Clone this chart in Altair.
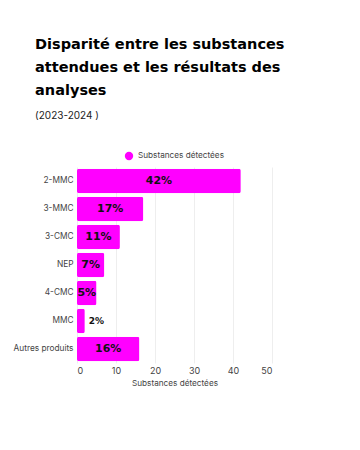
import altair as alt
import pandas as pd

categories = ["2-MMC", "3-MMC", "3-CMC", "NEP", "4-CMC", "MMC", "Autres produits"]
values = [42, 17, 11, 7, 5, 2, 16]
labels = ["42%", "17%", "11%", "7%", "5%", "2%", "16%"]
series_name = "Substances détectées"
x_ticks = [0, 10, 20, 30, 40, 50]

df = pd.DataFrame({"cat": categories, "val": values, "label": labels, "series": series_name})

HEAVY = "DejaVu Sans"
BODY = "Inter"

xaxis = alt.Axis(values=x_ticks, labelFont=BODY, labelFontSize=9,
                 labelColor="#444", titleFont=BODY, titleFontSize=8.2,
                 titleFontWeight="normal", titleColor="#444", ticks=False,
                 domain=False, grid=True, gridColor="#eeeeee", titlePadding=4,
                 labelPadding=3, labelOverlap=False)
xscale = alt.Scale(domain=[0, 50])
xtitle = "Substances détectées"

yenc = alt.Y(
    "cat:N", sort=categories, title=None,
    scale=alt.Scale(paddingInner=0.12, paddingOuter=0.06),
    axis=alt.Axis(labelFont=BODY, labelFontSize=8.3, labelColor="#444", ticks=False,
                  domain=False, labelPadding=4),
)

bars = alt.Chart(df).mark_bar(cornerRadius=2).encode(
    y=yenc,
    x=alt.X("val:Q", scale=xscale, title=xtitle, axis=xaxis),
    color=alt.Color("series:N", scale=alt.Scale(range=["#FF00FF"]),
                    legend=alt.Legend(orient="none", legendX=47, legendY=-16, title=None,
                                      symbolType="circle", symbolSize=70,
                                      labelFont=BODY, labelFontSize=8.2, labelColor="#444")),
)

inside = alt.Chart(df).transform_filter("datum.val >= 5").transform_calculate(
    mid="datum.val / 2"
).mark_text(font=HEAVY, fontWeight="bold", fontSize=11, color="#111").encode(
    y=alt.Y("cat:N", sort=categories),
    x=alt.X("mid:Q", scale=xscale, title=xtitle, axis=xaxis),
    text="label:N",
)

outside = alt.Chart(df).transform_filter("datum.val < 5").mark_text(
    font=HEAVY, fontWeight="bold", fontSize=9, color="#111", align="left", dx=4
).encode(
    y=alt.Y("cat:N", sort=categories),
    x=alt.X("val:Q", scale=xscale, title=xtitle, axis=xaxis),
    text="label:N",
)

chart = alt.layer(bars, inside, outside).properties(
    width=195, height=196,
    padding={"top": 28, "left": 5, "right": 5, "bottom": 5},
    title=alt.TitleParams(
        text=["Disparité entre les substances", "attendues et les résultats des", "analyses"],
        subtitle="(2023-2024 )",
        anchor="start", frame="bounds", dx=22, offset=29,
        font=HEAVY, fontSize=14.5, fontWeight="bold", lineHeight=23, color="#000",
        subtitleFont=BODY, subtitleFontSize=10, subtitleColor="#222", subtitlePadding=13,
    ),
).configure_view(stroke=None)

chart.save("out.html", embed_options={"renderer": "svg", "actions": False})
